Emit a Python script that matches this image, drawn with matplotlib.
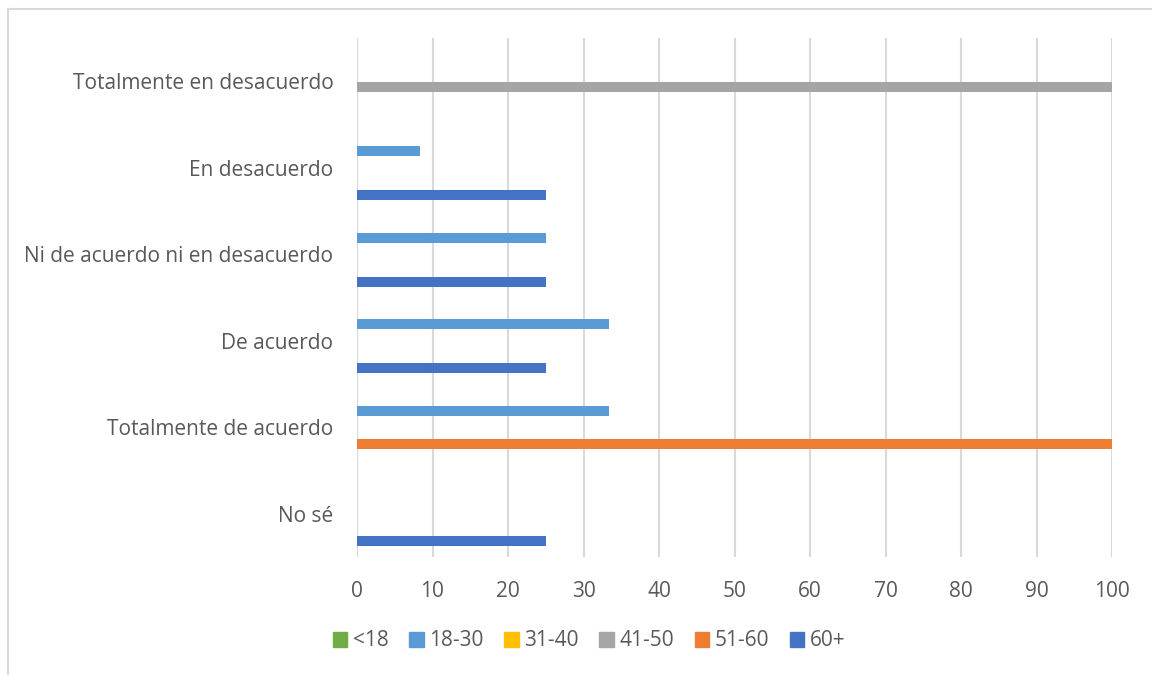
import numpy as np
import matplotlib.pyplot as plt
from matplotlib.lines import Line2D
from matplotlib.patches import Patch

plt.rcParams['font.family'] = ['Open Sans', 'DejaVu Sans']

categories = ['No sé', 'Totalmente de acuerdo', 'De acuerdo',
              'Ni de acuerdo ni en desacuerdo', 'En desacuerdo',
              'Totalmente en desacuerdo']
series = ['<18', '18-30', '31-40', '41-50', '51-60', '60+']
colors = ['#70AD47', '#5B9BD5', '#FFC000', '#A5A5A5', '#ED7D31', '#4472C4']

# percentages per age group, in category order (bottom to top)
v_lt18 = [0, 0, 0, 0, 0, 0]
v_18_30 = [0, 33.33, 33.33, 25, 8.33, 0]
v_31_40 = [0, 0, 0, 0, 0, 0]
v_41_50 = [0, 0, 0, 0, 0, 100]
v_51_60 = [0, 100, 0, 0, 0, 0]
v_60p = [25, 0, 25, 25, 25, 0]
values = [v_lt18, v_18_30, v_31_40, v_41_50, v_51_60, v_60p]

fig = plt.figure(figsize=(11.52, 6.75), dpi=100)
ax = fig.add_axes([357/1152, 1 - 557/675, (1112 - 357)/1152, (557 - 38)/675])

y = np.arange(len(categories))
h = 0.127
for i, (name, vals, c) in enumerate(zip(series, values, colors)):
    # first series sits at the top of each cluster
    off = (2.5 - i) * h
    ax.barh(y + off, vals, height=h * 0.92, color=c, label=name, zorder=3)

ax.set_xlim(0, 100)
ax.set_ylim(-0.5, len(categories) - 0.5)
ax.set_xticks(np.arange(0, 101, 10))
ax.set_yticks(y)
ax.set_yticklabels(categories)
ax.xaxis.grid(True, color='#D9D9D9', linewidth=1.5, zorder=0)
ax.tick_params(length=0, labelsize=15, colors='#595959')
ax.tick_params(axis='x', pad=17)
ax.tick_params(axis='y', pad=17)
for s in ax.spines.values():
    s.set_visible(False)

handles = [Patch(color=c) for c in colors]
fig.legend(handles, series, loc='center', bbox_to_anchor=(589/1152, 1 - 641/675),
           ncol=6, frameon=False, fontsize=15, handlelength=0.7, handleheight=0.7,
           handletextpad=0.25, columnspacing=1.0, labelcolor='#595959')

# chart area border (left and top edges)
fig.add_artist(Line2D([8/1152, 8/1152], [0, 1 - 9/675], transform=fig.transFigure,
                      color='#D9D9D9', linewidth=1.5))
fig.add_artist(Line2D([8/1152, 1], [1 - 9/675, 1 - 9/675], transform=fig.transFigure,
                      color='#D9D9D9', linewidth=1.5))

fig.savefig('out.png', dpi=100)
